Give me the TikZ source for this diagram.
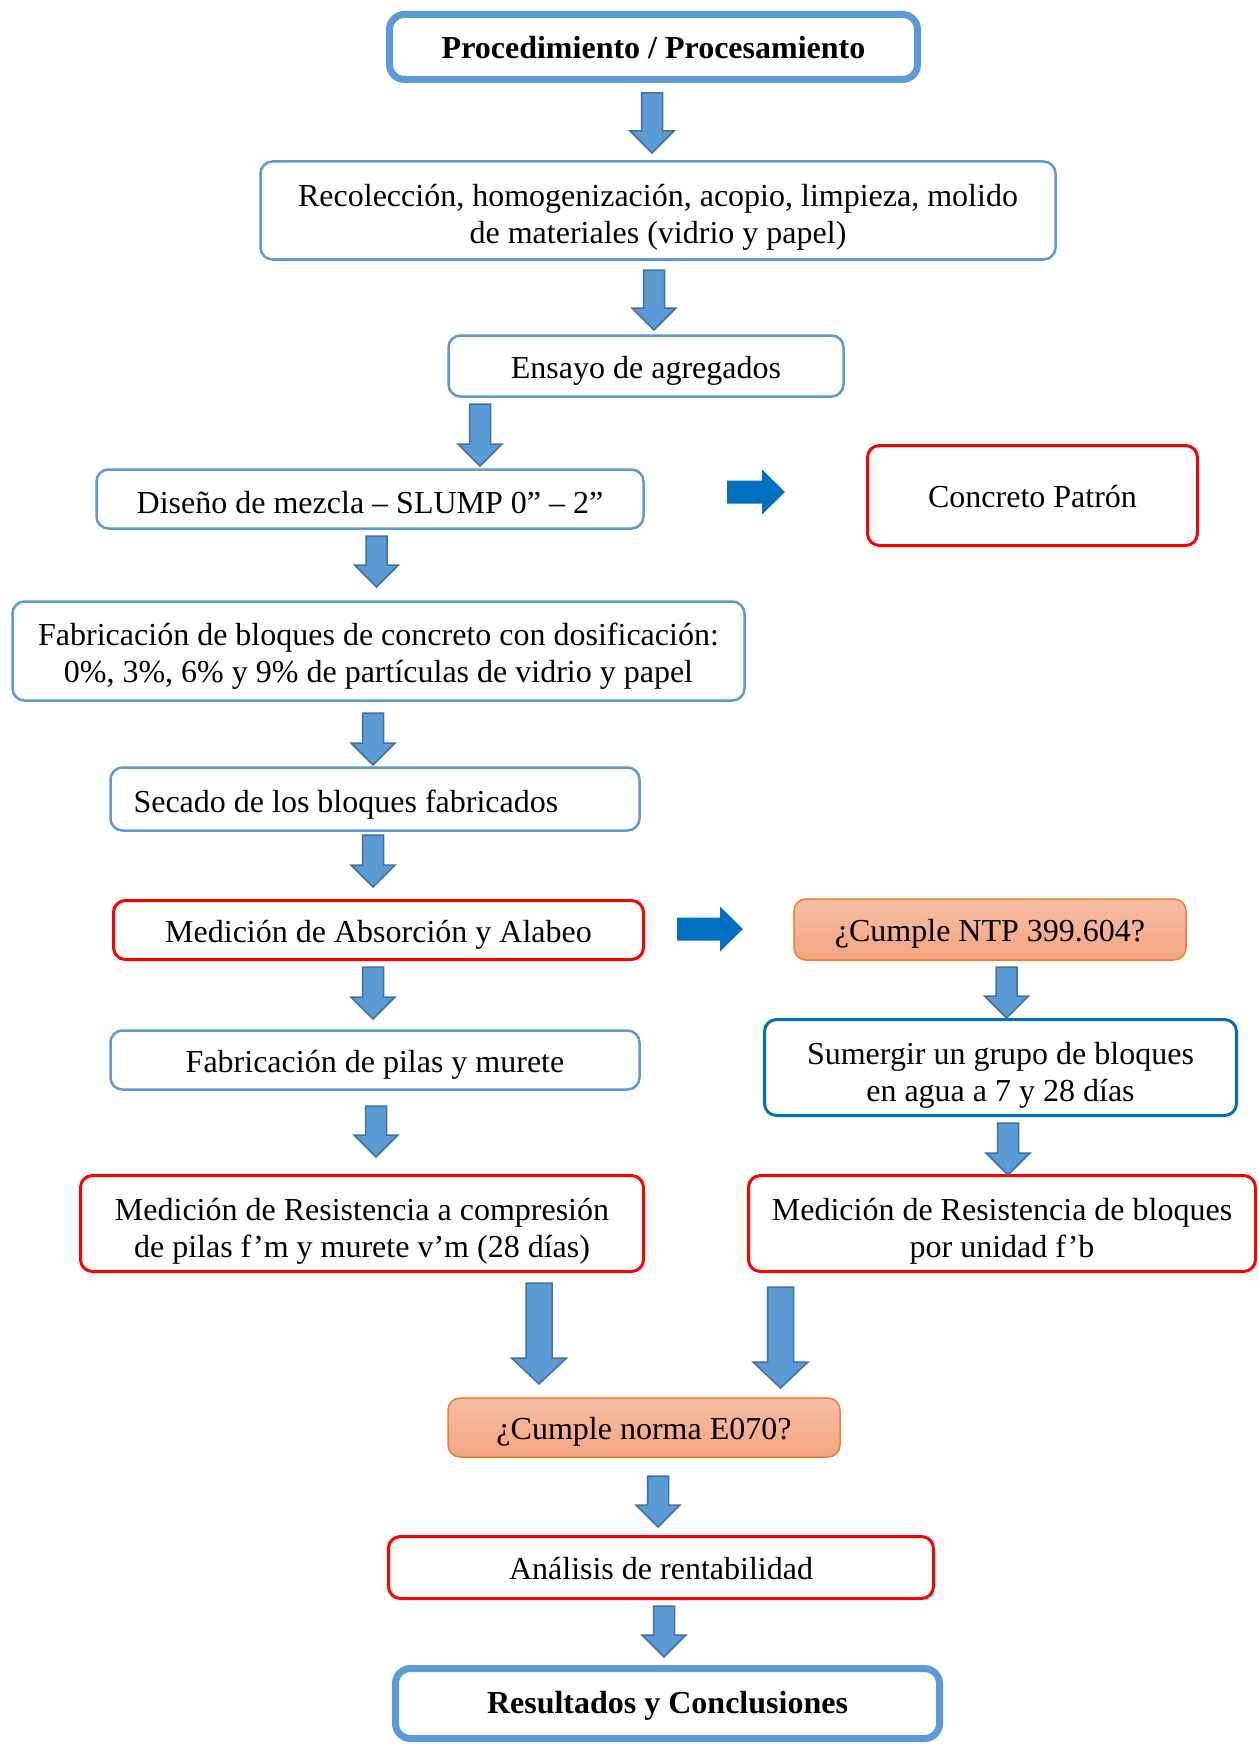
\documentclass[tikz,border=0pt]{standalone}
\usepackage{fontspec}
\setmainfont{Liberation Serif}
\definecolor{lblue}{HTML}{5B9BD5}
\definecolor{dblue}{HTML}{0070C0}
\definecolor{aborder}{HTML}{41719C}
\definecolor{rred}{HTML}{FF0000}
\definecolor{otop}{HTML}{F7BFA5}
\definecolor{obot}{HTML}{F4A47F}
\definecolor{obord}{HTML}{ED7D31}
\newcommand{\lo}[2]{\raisebox{-#1pt}[\height][\depth]{\begin{tabular}{@{}c@{}}#2\end{tabular}}}
\newcommand{\myDownArrow}[3]{%
  \draw[darrow] ({#1-10.5},#2) -- ({#1+10.5},#2) -- ({#1+10.5},{#3-22}) -- ({#1+22},{#3-22})
    -- (#1,#3) -- ({#1-22},{#3-22}) -- ({#1-10.5},{#3-22}) -- cycle;}
\newcommand{\myBigDownArrow}[3]{%
  \draw[darrow] ({#1-13},#2) -- ({#1+13},#2) -- ({#1+13},{#3-26}) -- ({#1+27.5},{#3-26})
    -- (#1,#3) -- ({#1-27.5},{#3-26}) -- ({#1-13},{#3-26}) -- cycle;}
\newcommand{\myRightArrow}[4]{% x1, head start, tip, yc
  \fill[dblue] (#1,{#4-11.5}) -- (#2,{#4-11.5}) -- (#2,{#4-22.5}) -- (#3,#4)
    -- (#2,{#4+22.5}) -- (#2,{#4+11.5}) -- (#1,{#4+11.5}) -- cycle;}
\begin{document}
\begin{tikzpicture}[x=1pt,y=-1pt,
  box/.style={draw=lblue, line width=2.5pt, rounded corners=12pt, fill=white,
    inner sep=0pt, outer sep=0pt, align=center, font=\fontsize{32}{37}\selectfont},
  titlebox/.style={box, line width=7pt, rounded corners=15pt, font=\fontsize{32}{37}\selectfont\bfseries},
  redbox/.style={box, draw=rred, line width=3pt},
  dbluebox/.style={box, draw=dblue, line width=3pt},
  orangebox/.style={box, draw=obord, line width=1.5pt, top color=otop, bottom color=obot},
  darrow/.style={fill=lblue, draw=aborder, line width=1.5pt, line join=miter}]
\useasboundingbox (0,0) rectangle (1258,1744);
\clip (0,0) rectangle (1258,1744);
\fill[white] (0,0) rectangle (1258,1744);

\node[titlebox, minimum width=528pt, minimum height=65pt] (proc) at (653.5,47) {\lo{4.5}{Procedimiento / Procesamiento}};
\node[box, minimum width=795pt, minimum height=98pt] (recol) at (658,210.5) {\lo{7}{Recolección, homogenización, acopio, limpieza, molido\\de materiales (vidrio y papel)}};
\node[box, minimum width=395pt, minimum height=61pt] (ensayo) at (646,366) {\lo{5.5}{Ensayo de agregados}};
\node[box, minimum width=547pt, minimum height=59pt] (diseno) at (370,499) {\lo{7}{Diseño de mezcla – SLUMP 0” – 2”}};
\node[redbox, minimum width=330pt, minimum height=100pt] (patron) at (1032.5,495.5) {\lo{4.5}{Concreto Patrón}};
\node[box, minimum width=732pt, minimum height=99pt] (fab) at (378.5,651) {\lo{5.5}{Fabricación de bloques de concreto con dosificación:\\0\%, 3\%, 6\% y 9\% de partículas de vidrio y papel}};
\node[box, minimum width=529pt, minimum height=63pt] (secado) at (375,799) {\lo{6}{\makebox[483pt][l]{Secado de los bloques fabricados}}};
\node[redbox, minimum width=530pt, minimum height=59pt] (absor) at (378.5,930) {\lo{5.5}{Medición de Absorción y Alabeo}};
\node[orangebox, minimum width=392pt, minimum height=61pt] (ntp) at (990,929.5) {\lo{4.5}{¿Cumple NTP 399.604?}};
\node[box, minimum width=529pt, minimum height=59pt] (pilas) at (375,1060) {\lo{5.5}{Fabricación de pilas y murete}};
\node[dbluebox, minimum width=472pt, minimum height=96pt] (sumerg) at (1000.5,1067.5) {\lo{8}{Sumergir un grupo de bloques\\en agua a 7 y 28 días}};
\node[redbox, minimum width=563pt, minimum height=96pt] (medpilas) at (362,1223.5) {\lo{8}{Medición de Resistencia a compresión\\de pilas f’m y murete v’m (28 días)}};
\node[redbox, minimum width=507pt, minimum height=96pt] (medbloq) at (1002,1223.5) {\lo{8}{Medición de Resistencia de bloques\\por unidad f’b}};
\node[orangebox, minimum width=392pt, minimum height=59pt] (e070) at (644,1427.5) {\lo{4.5}{¿Cumple norma E070?}};
\node[redbox, minimum width=545pt, minimum height=62pt] (anal) at (661,1567.5) {\lo{4.5}{Análisis de rentabilidad}};
\node[titlebox, minimum width=544pt, minimum height=70pt] (result) at (667.5,1703.5) {\lo{3}{Resultados y Conclusiones}};

\myDownArrow{652}{93}{153}
\myDownArrow{654}{270}{330}
\myDownArrow{480}{404}{466}
\myDownArrow{376.5}{536}{587}
\myDownArrow{373}{713}{765}
\myDownArrow{373}{835}{887}
\myDownArrow{373}{967}{1019}
\myDownArrow{376}{1106}{1157}
\myBigDownArrow{539}{1283}{1384}
\myBigDownArrow{780.5}{1287}{1388}
\myDownArrow{658}{1476}{1527}
\myDownArrow{664}{1606}{1657}
\myDownArrow{1006.5}{967}{1018}
\myDownArrow{1008}{1123}{1175}

\myRightArrow{727}{762}{785}{492}
\myRightArrow{677}{720}{743}{929}
\end{tikzpicture}
\end{document}
